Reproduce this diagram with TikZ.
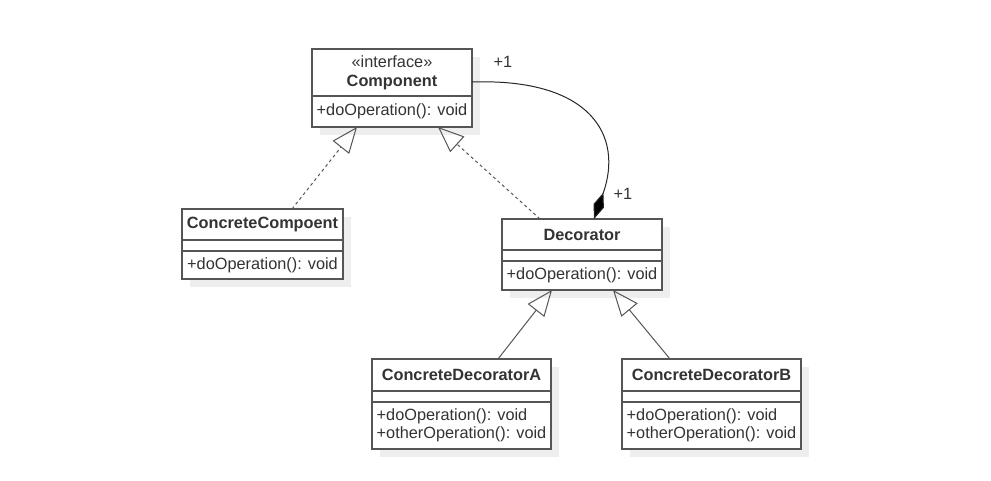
\documentclass[tikz,border=0pt]{standalone}
\usepackage{fontspec}
\setmainfont{Liberation Sans}
\usepackage{xcolor}
\usepackage{tikz}
\usetikzlibrary{arrows.meta, positioning, shadows}
\definecolor{uml-line}{HTML}{555555}
\definecolor{uml-text}{HTML}{333333}
\definecolor{uml-shadow}{HTML}{EEEEEE}

\begin{document}
\begin{tikzpicture}[
	x=1pt, y=-1pt,
	umlbox/.style={
		draw=uml-line, fill=white, line width=1.2pt,
		inner sep=2pt, outer sep=0pt,
		drop shadow={shadow xshift=8pt, shadow yshift=-8pt, fill=uml-shadow, opacity=1},
		font=\fontsize{16.3}{18}\selectfont\color{uml-text}
	},
	clsname/.style={umlbox, minimum width=#1, minimum height=31pt,
		font=\fontsize{16.3}{18}\selectfont\bfseries\color{uml-text}},
	clsattr/.style={umlbox, minimum width=#1, minimum height=11pt},
	clsops/.style={umlbox, minimum width=#1, minimum height=28pt, align=left},
	realize/.style={draw=uml-line, line width=1pt, dash pattern=on 3pt off 3pt,
		-{Triangle[open, length=26pt, width=21pt]}},
	inherit/.style={draw=uml-line, line width=1pt,
		-{Triangle[open, length=26pt, width=21pt]}},
	compose/.style={draw=black!85, line width=1pt,
		-{Diamond[length=28pt, width=11pt, fill=black]}},
	mult/.style={font=\fontsize{16.3}{18}\selectfont\color{uml-text}, inner sep=0pt}
	]
	\useasboundingbox (0,0) rectangle (991,481);

	% interface
	\node[clsname=160pt, minimum height=47pt, align=center] (comp) at (392,72.5)
		{\mdseries\guillemotleft interface\guillemotright\\[1pt]\textbf{Component}};
	\node[clsops=160pt, minimum height=31pt, below=0pt of comp] (comp-ops) {+doOperation(): void};

	% concrete component
	\node[clsname=161pt] (cc) at (262.5,224.5) {ConcreteCompoent};
	\node[clsattr=161pt, below=0pt of cc] (cc-attr) {};
	\node[clsops=161pt, below=0pt of cc-attr] (cc-ops) {+doOperation(): void};

	% decorator
	\node[clsname=160pt] (dec) at (582,234.5) {Decorator};
	\node[clsattr=160pt, below=0pt of dec] (dec-attr) {};
	\node[clsops=160pt, minimum height=29pt, below=0pt of dec-attr] (dec-ops) {+doOperation(): void};

	% concrete decorators
	\node[clsname=179pt, minimum height=32pt] (deca) at (461.5,375) {ConcreteDecoratorA};
	\node[clsattr=179pt, below=0pt of deca] (deca-attr) {};
	\node[clsops=179pt, minimum height=47pt, below=0pt of deca-attr] (deca-ops)
		{+doOperation(): void\\+otherOperation(): void};

	\node[clsname=179pt, minimum height=32pt] (decb) at (711.5,375) {ConcreteDecoratorB};
	\node[clsattr=179pt, below=0pt of decb] (decb-attr) {};
	\node[clsops=179pt, minimum height=47pt, below=0pt of decb-attr] (decb-ops)
		{+doOperation(): void\\+otherOperation(): void};

	% relations
	\draw[realize] ([xshift=29.5pt]cc.north) -- ([xshift=-35pt]comp-ops.south);
	\draw[realize] ([xshift=-42pt]dec.north) -- ([xshift=46pt]comp-ops.south);
	\draw[inherit] ([xshift=36.5pt]deca.north) -- ([xshift=-30pt]dec-ops.south);
	\draw[inherit] ([xshift=-41.5pt]decb.north) -- ([xshift=31pt]dec-ops.south);
	\draw[compose] ([yshift=-9.5pt]comp.east) .. controls +(118,-4) and +(30,-84) .. ([xshift=12pt]dec.north);

	\node[mult] (m-comp) at (503,61.5) {+1};
	\node[mult] (m-dec) at (623,194) {+1};
\end{tikzpicture}
\end{document}
